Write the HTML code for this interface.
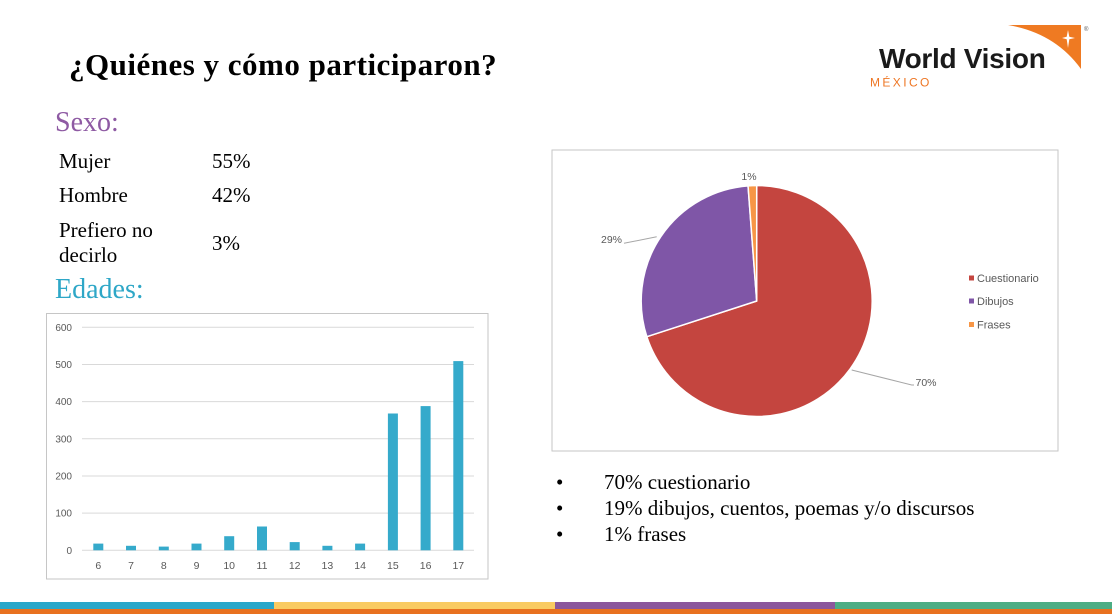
<!DOCTYPE html>
<html>
<head>
<meta charset="utf-8">
<style>
  html,body{margin:0;padding:0;background:#fff;}
  body{width:1112px;height:614px;overflow:hidden;}
  svg{display:block;}
  .serif{font-family:"Liberation Serif","Times New Roman",serif;}
  .sans{font-family:"Liberation Sans",Arial,sans-serif;}
</style>
</head>
<body>
<svg width="1112" height="614" viewBox="0 0 1112 614" xmlns="http://www.w3.org/2000/svg">
  <rect x="0" y="0" width="1112" height="614" fill="#ffffff"/>

  <!-- Title -->
  <text x="69" y="75" class="serif" font-size="31" font-weight="bold" letter-spacing="0.5" fill="#000">¿Quiénes y cómo participaron?</text>

  <!-- Logo -->
  <path d="M1008,25 L1081,25 L1081,69 Q1055,33 1008,25 Z" fill="#ef7a22"/>
  <path d="M1068,30 L1069.3,36.7 L1075,38 L1069.3,39.3 L1068,48 L1066.7,39.3 L1062,38 L1066.7,36.7 Z" fill="#ffffff"/>
  <text x="1084" y="31" class="sans" font-size="6" fill="#555">®</text>
  <text x="879" y="68" class="sans" font-size="28" font-weight="bold" letter-spacing="-0.3" fill="#1a1a1a">World Vision</text>
  <text x="870" y="86.5" class="sans" font-size="12" letter-spacing="2.4" fill="#ee7624">MÉXICO</text>

  <!-- Sexo -->
  <text x="55" y="131" class="serif" font-size="28" fill="#8e5aa3">Sexo:</text>
  <g class="serif" font-size="21" fill="#000">
    <text x="59" y="168">Mujer</text>
    <text x="212" y="168">55%</text>
    <text x="59" y="202">Hombre</text>
    <text x="212" y="202">42%</text>
    <text x="59" y="237">Prefiero no</text>
    <text x="59" y="262">decirlo</text>
    <text x="212" y="250">3%</text>
  </g>
  <text x="55" y="298" class="serif" font-size="28" fill="#2ea7c7">Edades:</text>

  <!-- Bar chart -->
  <rect x="46.5" y="313.5" width="441.5" height="265.5" fill="#fff" stroke="#c6c6c6" stroke-width="1"/>
  <g stroke="#d9d9d9" stroke-width="1">
    <line x1="82" y1="550.3" x2="474" y2="550.3"/>
    <line x1="82" y1="513.1" x2="474" y2="513.1"/>
    <line x1="82" y1="476" x2="474" y2="476"/>
    <line x1="82" y1="438.8" x2="474" y2="438.8"/>
    <line x1="82" y1="401.6" x2="474" y2="401.6"/>
    <line x1="82" y1="364.5" x2="474" y2="364.5"/>
    <line x1="82" y1="327.3" x2="474" y2="327.3"/>
  </g>
  <g class="sans" font-size="10" fill="#595959" text-anchor="end">
    <text x="72" y="553.8">0</text>
    <text x="72" y="516.6">100</text>
    <text x="72" y="479.5">200</text>
    <text x="72" y="442.3">300</text>
    <text x="72" y="405.1">400</text>
    <text x="72" y="368">500</text>
    <text x="72" y="330.8">600</text>
  </g>
  <g fill="#35aacb">
    <rect x="93.3" y="543.6" width="10" height="6.7"/>
    <rect x="126.0" y="545.8" width="10" height="4.5"/>
    <rect x="158.8" y="546.6" width="10" height="3.7"/>
    <rect x="191.5" y="543.6" width="10" height="6.7"/>
    <rect x="224.2" y="536.2" width="10" height="14.1"/>
    <rect x="257.0" y="526.5" width="10" height="23.8"/>
    <rect x="289.7" y="542.1" width="10" height="8.2"/>
    <rect x="322.4" y="545.8" width="10" height="4.5"/>
    <rect x="355.1" y="543.6" width="10" height="6.7"/>
    <rect x="387.9" y="413.5" width="10" height="136.8"/>
    <rect x="420.6" y="406.1" width="10" height="144.2"/>
    <rect x="453.3" y="361.1" width="10" height="189.2"/>
  </g>
  <g class="sans" font-size="10.5" fill="#595959" text-anchor="middle">
    <text x="98.3" y="569">6</text>
    <text x="131.0" y="569">7</text>
    <text x="163.8" y="569">8</text>
    <text x="196.5" y="569">9</text>
    <text x="229.2" y="569">10</text>
    <text x="262.0" y="569">11</text>
    <text x="294.7" y="569">12</text>
    <text x="327.4" y="569">13</text>
    <text x="360.1" y="569">14</text>
    <text x="392.9" y="569">15</text>
    <text x="425.6" y="569">16</text>
    <text x="458.3" y="569">17</text>
  </g>

  <!-- Pie chart -->
  <rect x="552" y="150" width="506" height="301" fill="#fff" stroke="#c6c6c6" stroke-width="1"/>
  <g stroke="#ffffff" stroke-width="1.5" stroke-linejoin="round">
    <path d="M756.7,301 L756.7,185.5 A115.5,115.5 0 1 1 646.85,336.69 Z" fill="#c4453f"/>
    <path d="M756.7,301 L646.85,336.69 A115.5,115.5 0 0 1 748.04,185.82 Z" fill="#7f56a7"/>
    <path d="M756.7,301 L748.04,185.82 A115.5,115.5 0 0 1 756.7,185.5 Z" fill="#f79646"/>
  </g>
  <g stroke="#a6a6a6" stroke-width="1" fill="none">
    <polyline points="624,243.3 656.7,236.7"/>
    <polyline points="851.7,370 911.7,385 914,385"/>
  </g>
  <g class="sans" font-size="10.5" fill="#595959">
    <text x="749" y="180" text-anchor="middle">1%</text>
    <text x="622" y="243" text-anchor="end">29%</text>
    <text x="915.5" y="386">70%</text>
  </g>
  <rect x="969" y="275.5" width="5" height="5" fill="#c4453f"/>
  <rect x="969" y="298.5" width="5" height="5" fill="#7f56a7"/>
  <rect x="969" y="322" width="5" height="5" fill="#f79646"/>
  <g class="sans" font-size="11" fill="#595959">
    <text x="977" y="282">Cuestionario</text>
    <text x="977" y="305">Dibujos</text>
    <text x="977" y="328.5">Frases</text>
  </g>

  <!-- Bullets -->
  <g class="serif" font-size="21" fill="#000">
    <text x="556" y="489">•</text>
    <text x="604" y="489">70% cuestionario</text>
    <text x="556" y="515">•</text>
    <text x="604" y="515">19% dibujos, cuentos, poemas y/o discursos</text>
    <text x="556" y="541">•</text>
    <text x="604" y="541">1% frases</text>
  </g>

  <!-- Bottom color bars -->
  <rect x="0" y="602" width="274" height="7" fill="#29a7c9"/>
  <rect x="274" y="602" width="281" height="7" fill="#f9cb62"/>
  <rect x="555" y="602" width="280" height="7" fill="#8b579c"/>
  <rect x="835" y="602" width="277" height="7" fill="#4cad84"/>
  <rect x="0" y="609" width="1112" height="5" fill="#e8711f"/>
</svg>
</body>
</html>
